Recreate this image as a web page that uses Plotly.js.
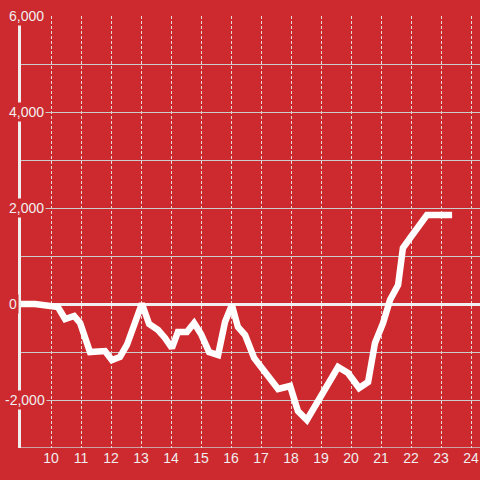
<!DOCTYPE html>
<html>
<head>
<meta charset="utf-8">
<script src="https://cdn.plot.ly/plotly-3.0.1.min.js"></script>
<style>html,body{margin:0;padding:0;background:#cc2a2f;}#chart{width:480px;height:480px;}</style>
</head>
<body>
<div id="chart"></div>
<script>
const hours = [8.97, 9.47, 10.23, 10.47, 10.77, 10.97, 11.3, 11.8, 12.03, 12.3, 12.53, 12.8, 13.03, 13.27, 13.57, 13.8, 14.03, 14.23, 14.53, 14.77, 15.0, 15.27, 15.57, 15.8, 16.03, 16.23, 16.47, 16.77, 17.03, 17.3, 17.57, 17.97, 18.23, 18.53, 18.87, 19.23, 19.57, 19.9, 20.27, 20.57, 20.8, 21.07, 21.3, 21.57, 21.73, 21.97, 22.23, 22.53, 23.37];
const values = [0, 0, -62, -312, -250, -396, -1000, -979, -1167, -1104, -854, -396, 10, -417, -542, -708, -917, -583, -583, -396, -625, -1000, -1063, -375, -21, -479, -646, -1125, -1333, -1521, -1771, -1708, -2229, -2417, -2063, -1667, -1313, -1438, -1750, -1625, -813, -396, 83, 396, 1167, 1375, 1583, 1854, 1854];
const xTickVals = [10, 11, 12, 13, 14, 15, 16, 17, 18, 19, 20, 21, 22, 23, 24];
const yTickVals = [6000, 4000, 2000, 0, -2000];
const yTickText = ["6,000", "4,000", "2,000", "0", "-2,000"];
const yRange = [-3000, 6000];
const xRange = [9, 24.3];

const RED = '#cc2a2f';
const LIGHT = '#f0eeee';
const W = 480, L = 21;

const annotations = yTickVals.map((v, i) => ({
  xref: 'paper', yref: 'y',
  x: ((yTickText[i].startsWith('-') ? 3 : 7) - L) / (W - L),
  y: v,
  xanchor: 'left', yanchor: 'middle',
  text: yTickText[i],
  showarrow: false,
  bgcolor: RED,
  borderpad: 1,
  font: {family: 'Liberation Sans, Arial, sans-serif', size: 14, color: LIGHT}
}));

Plotly.newPlot('chart', [{
  x: hours, y: values,
  type: 'scatter', mode: 'lines',
  line: {color: '#ffffff', width: 6.5},
  hoverinfo: 'skip'
}], {
  width: 480, height: 480,
  margin: {l: L, r: 0, t: 16, b: 32, pad: 0},
  paper_bgcolor: RED, plot_bgcolor: RED,
  showlegend: false,
  xaxis: {
    range: xRange,
    tickvals: xTickVals,
    ticktext: xTickVals.map(String),
    ticks: '',
    showline: false,
    showgrid: true,
    gridcolor: '#e8d8d8', gridwidth: 1, griddash: '3px,2px',
    zeroline: false,
    tickfont: {family: 'Liberation Sans, Arial, sans-serif', size: 14, color: LIGHT}
  },
  yaxis: {
    range: yRange,
    dtick: 1000, tick0: 0,
    showticklabels: false,
    ticks: '',
    showgrid: true, gridcolor: '#cccccc', gridwidth: 1,
    zeroline: true, zerolinecolor: LIGHT, zerolinewidth: 3,
    showline: true, linecolor: LIGHT, linewidth: 3
  },
  shapes: [{
    type: 'line', xref: 'paper', yref: 'y',
    x0: 0, x1: 1, y0: yRange[0], y1: yRange[0],
    line: {color: '#cccccc', width: 1.5},
    layer: 'below'
  }],
  annotations: annotations
}, {staticPlot: true, displayModeBar: false});
</script>
</body>
</html>
